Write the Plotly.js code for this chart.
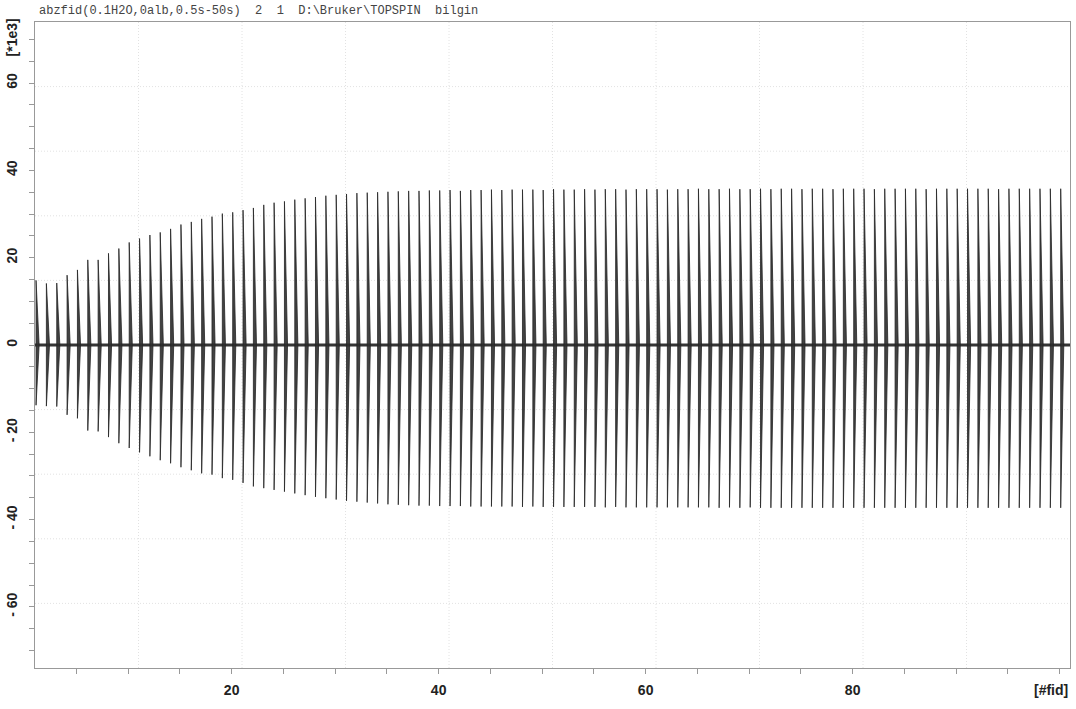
<!DOCTYPE html>
<html>
<head>
<meta charset="utf-8">
<script src="https://cdn.plot.ly/plotly-3.0.1.min.js"></script>
<style>html,body{margin:0;padding:0;background:#fff;}#chart{width:1076px;height:709px;}</style>
</head>
<body>
<div id="chart"></div>
<script>
// FID number (x axis, [#fid])
const fidNumber = [
  1,2,3,4,5,6,7,8,9,10,11,12,13,14,15,16,17,18,19,20,
  21,22,23,24,25,26,27,28,29,30,31,32,33,34,35,36,37,38,39,40,
  41,42,43,44,45,46,47,48,49,50,51,52,53,54,55,56,57,58,59,60,
  61,62,63,64,65,66,67,68,69,70,71,72,73,74,75,76,77,78,79,80,
  81,82,83,84,85,86,87,88,89,90,91,92,93,94,95,96,97,98,99,100
];
// Positive peak amplitude of each FID [*1e3]
const posPeak = [
  14.8,14.1,14.2,16.0,17.2,19.5,19.5,21.0,22.1,23.5,24.4,25.2,25.8,26.6,27.6,28.2,28.9,29.4,30.1,30.4,
  30.9,31.4,32.1,32.6,32.9,33.3,33.6,33.9,34.2,34.4,34.6,34.8,34.9,35.0,35.1,35.2,35.3,35.3,35.4,35.4,
  35.5,35.3,35.5,35.5,35.6,35.5,35.6,35.6,35.6,35.5,35.7,35.6,35.6,35.7,35.6,35.7,35.7,35.6,35.7,35.7,
  35.7,35.6,35.7,35.7,35.8,35.7,35.7,35.8,35.7,35.7,35.8,35.7,35.8,35.8,35.7,35.8,35.8,35.7,35.8,35.8,
  35.8,35.7,35.8,35.8,35.8,35.8,35.7,35.8,35.8,35.8,35.8,35.8,35.8,35.7,35.8,35.8,35.8,35.8,35.8,35.8
];
// Negative peak amplitude of each FID [*1e3]
const negPeak = [
  -13.8,-14.0,-14.1,-16.0,-16.8,-19.6,-19.8,-21.1,-22.5,-23.6,-24.6,-25.5,-26.4,-27.1,-28.0,-28.7,-29.4,-29.7,-30.5,-30.9,
  -31.6,-32.4,-32.8,-33.2,-33.6,-34.0,-34.4,-34.8,-35.1,-35.4,-35.7,-35.9,-36.1,-36.3,-36.5,-36.6,-36.7,-36.8,-36.8,-36.9,
  -36.9,-36.9,-37.0,-37.0,-37.0,-37.0,-37.0,-37.1,-37.0,-37.1,-37.1,-37.1,-37.1,-37.1,-37.1,-37.2,-37.1,-37.2,-37.2,-37.2,
  -37.2,-37.2,-37.2,-37.2,-37.2,-37.2,-37.3,-37.2,-37.3,-37.2,-37.3,-37.3,-37.3,-37.3,-37.3,-37.3,-37.3,-37.3,-37.3,-37.3,
  -37.3,-37.3,-37.3,-37.3,-37.3,-37.3,-37.3,-37.3,-37.3,-37.3,-37.3,-37.3,-37.3,-37.3,-37.3,-37.3,-37.3,-37.3,-37.3,-37.3
];
// Axis tick labels
const xTickVals = [20, 40, 60, 80];
const xTickText = ['20', '40', '60', '80'];
const yTickVals = [-60, -40, -20, 0, 20, 40, 60, 70];
const yTickText = ['- 60', '- 40', '- 20', '0', '20', '40', '60', '[*1e3]'];
const headerText = 'abzfid(0.1H2O,0alb,0.5s-50s)  2  1  D:\\Bruker\\TOPSPIN  bilgin';

const xRange = [1, 101];
const yRange = [-74, 74];

// Build each FID as a thin decaying wedge (vertical leading edge, decays to the right)
const onset = 0.1, decay = 0.3;
const sx = [], sy = [];
for (let i = 0; i < fidNumber.length; i++) {
  const k = fidNumber[i] + onset;
  sx.push(k, k + decay, k, k, null);
  sy.push(posPeak[i], 0, negPeak[i], posPeak[i], null);
}

const spikes = {
  x: sx, y: sy, type: 'scatter', mode: 'lines',
  fill: 'toself', fillcolor: 'rgba(45,45,45,0.9)',
  line: {color: '#252525', width: 0.8},
  hoverinfo: 'skip', showlegend: false
};
const baseline = {
  x: [fidNumber[0], fidNumber[fidNumber.length - 1] + 1], y: [0, 0],
  type: 'scatter', mode: 'lines',
  line: {color: '#353535', width: 3},
  hoverinfo: 'skip', showlegend: false
};

// TopSpin-style 10-division dotted grid
const shapes = [];
for (let i = 1; i < 10; i++) {
  const gx = xRange[0] + i * (xRange[1] - xRange[0]) / 10;
  const gy = yRange[0] + i * (yRange[1] - yRange[0]) / 10;
  shapes.push({type: 'line', xref: 'x', yref: 'paper', x0: gx, x1: gx, y0: 0, y1: 1,
    line: {color: '#e2e2e2', width: 1, dash: '1px,2px'}, layer: 'below'});
  shapes.push({type: 'line', xref: 'paper', yref: 'y', x0: 0, x1: 1, y0: gy, y1: gy,
    line: {color: '#e2e2e2', width: 1, dash: '1px,2px'}, layer: 'below'});
}

const tickFont = {family: 'Liberation Sans, Arial, sans-serif', size: 14, color: '#222', weight: 'bold'};

const layout = {
  width: 1076, height: 709,
  margin: {l: 35, r: 6, t: 22, b: 41},
  paper_bgcolor: '#fff', plot_bgcolor: '#fff',
  showlegend: false,
  xaxis: {
    range: xRange, showgrid: false, zeroline: false,
    showline: true, linecolor: '#999', linewidth: 1, mirror: true,
    tickmode: 'array', tickvals: xTickVals.concat([100]), ticktext: xTickText.concat(['']),
    ticks: 'outside', ticklen: 5, tickcolor: '#999', tickfont: tickFont,
    ticklabelstandoff: 4,
    minor: {tickmode: 'linear', tick0: 0, dtick: 5, ticks: 'outside', ticklen: 5, tickcolor: '#999', showgrid: false}
  },
  yaxis: {
    range: yRange, showgrid: false, zeroline: false,
    showline: true, linecolor: '#999', linewidth: 1, mirror: true,
    tickmode: 'array', tickvals: yTickVals, ticktext: yTickText,
    tickangle: -90,
    ticks: 'outside', ticklen: 5, tickcolor: '#999', tickfont: tickFont,
    ticklabelstandoff: 6,
    minor: {tickmode: 'linear', tick0: 0, dtick: 5, ticks: 'outside', ticklen: 5, tickcolor: '#999', showgrid: false}
  },
  shapes: shapes,
  annotations: [
    {text: headerText.replace(/ /g, '\u00a0'), xref: 'paper', yref: 'paper', x: 0, y: 1,
     xanchor: 'left', yanchor: 'bottom', xshift: 2, yshift: 2, showarrow: false,
     font: {family: 'Liberation Mono, Courier New, monospace', size: 12, color: '#444'}},
    {text: '[#fid]', xref: 'paper', yref: 'paper', x: 1, y: 0, xanchor: 'right', yanchor: 'top',
     yshift: -12, showarrow: false, font: tickFont}
  ]
};

Plotly.newPlot('chart', [baseline, spikes], layout, {staticPlot: true, displayModeBar: false});
</script>
</body>
</html>
